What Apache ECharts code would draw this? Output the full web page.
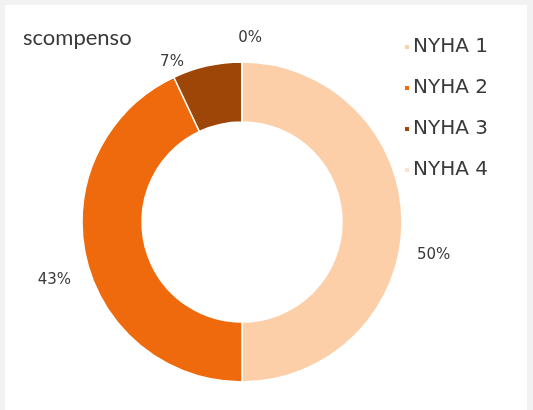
<!DOCTYPE html>
<html>
<head>
<meta charset="utf-8">
<script src="https://cdn.jsdelivr.net/npm/echarts@6/dist/echarts.min.js"></script>
<style>
  html, body { margin: 0; padding: 0; background: #f2f2f2; }
  #chart { position: absolute; left: 5px; top: 5px; width: 522px; height: 405px; background: #ffffff; }
</style>
</head>
<body>
<div id="chart"></div>
<script>
// NYHA class distribution (percent)
const categories = ['NYHA 1', 'NYHA 2', 'NYHA 3', 'NYHA 4'];
const values = [50, 43, 7, 0];
const colors = ['#fccfa9', '#ee6a0c', '#9d4607', '#fbe4d2'];
const titleText = 'scompenso';

// small nudges for the outside labels, per slice
const labelShift = [[0, 33], [0, 21], [-16, 6], [25, -14]];

const chart = echarts.init(document.getElementById('chart'));
const titleFont = 'Lato, "Open Sans", sans-serif';
const bodyFont = '"DejaVu Sans", sans-serif';

chart.setOption({
  animation: false,
  backgroundColor: '#ffffff',
  color: colors,
  title: {
    text: titleText,
    left: 13,
    top: 17,
    textStyle: { fontFamily: titleFont, fontSize: 22, fontWeight: 'normal', color: '#3a3a3a' }
  },
  legend: {
    orient: 'vertical',
    left: 393,
    top: 27,
    itemWidth: 6,
    itemHeight: 6,
    itemGap: 21,
    icon: 'rect',
    data: categories,
    textStyle: { fontFamily: bodyFont, fontSize: 20, color: '#3a3a3a', padding: [0, 0, 0, -2] }
  },
  series: [{
    type: 'pie',
    center: [237, 217],
    radius: [100, 160],
    startAngle: 90,
    clockwise: true,
    stillShowZeroSum: true,
    minShowLabelAngle: 0,
    avoidLabelOverlap: false,
    itemStyle: { borderColor: '#ffffff', borderWidth: 1.5 },
    label: {
      show: true,
      position: 'outside',
      formatter: p => p.value + '%',
      fontFamily: bodyFont,
      fontSize: 15,
      color: '#3a3a3a'
    },
    labelLine: { show: false, length: 10, length2: 0 },
    labelLayout: p => ({ dx: labelShift[p.dataIndex][0], dy: labelShift[p.dataIndex][1] }),
    data: categories.map((name, i) => ({ name, value: values[i] }))
  }]
});
</script>
</body>
</html>
